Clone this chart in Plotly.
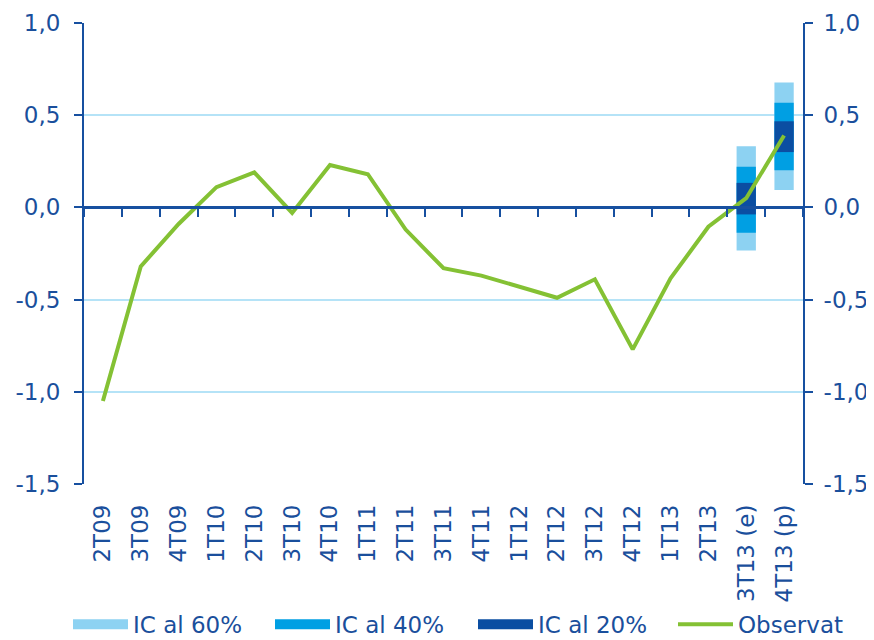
import plotly.graph_objects as go

categories = ["2T09", "3T09", "4T09", "1T10", "2T10", "3T10", "4T10", "1T11", "2T11",
              "3T11", "4T11", "1T12", "2T12", "3T12", "4T12", "1T13", "2T13",
              "3T13 (e)", "4T13 (p)"]
observat = [-1.05, -0.32, -0.09, 0.11, 0.19, -0.03, 0.23, 0.18, -0.12,
            -0.33, -0.37, -0.43, -0.49, -0.39, -0.77, -0.385, -0.105, 0.05, 0.39]

fan_categories = ["3T13 (e)", "4T13 (p)"]
ic60_low = [-0.234, 0.095]
ic60_high = [0.331, 0.678]
ic40_low = [-0.138, 0.202]
ic40_high = [0.220, 0.567]
ic20_low = [-0.038, 0.300]
ic20_high = [0.133, 0.467]

y_ticks = [1.0, 0.5, 0.0, -0.5, -1.0, -1.5]
y_tick_text = ["1,0", "0,5", "0,0", "-0,5", "-1,0", "-1,5"]

C60 = "#8DD2F2"
C40 = "#009FE3"
C20 = "#0B4EA2"
GREEN = "#84C134"
TXT = "#1A4F9C"
AXIS = "#1750A0"
GRID = "#B5E3F7"
FONT = "DejaVu Sans"
FS = 23

fig = go.Figure()

legend_ids = ["legend", "legend2", "legend3", "legend4"]

for i, (name, lo, hi, col) in enumerate([("IC al 60%", ic60_low, ic60_high, C60),
                                         ("IC al 40%", ic40_low, ic40_high, C40),
                                         ("IC al 20%", ic20_low, ic20_high, C20)]):
    fig.add_trace(go.Bar(x=fan_categories, y=[h - l for l, h in zip(lo, hi)], base=lo,
                         marker=dict(color=col, line=dict(width=0)), width=0.51,
                         name=name, showlegend=False, hoverinfo="skip"))
    fig.add_trace(go.Scatter(x=[None], y=[None], mode="lines", name=name,
                             line=dict(color=col, width=12), legend=legend_ids[i]))

fig.add_trace(go.Scatter(x=categories, y=observat, mode="lines", name="Observat",
                         line=dict(color=GREEN, width=4), legend=legend_ids[3]))

# helper invisible traces for the zero-line axis and the right axis
fig.add_trace(go.Scatter(x=categories, y=[0] * len(categories), xaxis="x2", mode="none",
                         showlegend=False, hoverinfo="skip"))
fig.add_trace(go.Scatter(x=[categories[0]], y=[0], yaxis="y2", mode="none",
                         showlegend=False, hoverinfo="skip"))

W, H = 866, 632
legend_px = [60, 262, 465, 665]
legends = {}
for lid, px in zip(legend_ids, legend_px):
    legends[lid] = dict(orientation="h", x=px / W, xanchor="left", xref="container",
                        y=0.025, yanchor="middle", yref="container",
                        font=dict(size=FS, color=TXT), itemwidth=55,
                        bgcolor="rgba(0,0,0,0)")

# page body adds an 8px offset, so the figure is 8px smaller than the window
fig.update_layout(
    width=W, height=H,
    margin=dict(l=76, r=71, t=15, b=156),
    paper_bgcolor="white", plot_bgcolor="white",
    barmode="overlay",
    font=dict(family=FONT, color=TXT, size=FS),
    xaxis=dict(type="category", categoryorder="array", categoryarray=categories,
               range=[-0.5, 18.5], showgrid=False, showline=False, zeroline=False,
               ticks="", tickangle=-90, tickfont=dict(size=FS, color=TXT),
               ticklabelstandoff=15, automargin=False),
    xaxis2=dict(type="category", categoryorder="array", categoryarray=categories,
                range=[-0.5, 18.5], overlaying="x", anchor="free", position=0.6,
                showgrid=False, showticklabels=False, showline=True, linecolor=AXIS,
                linewidth=2.5, ticks="outside", tickson="boundaries", ticklen=8,
                tickwidth=2, tickcolor=AXIS, zeroline=False, automargin=False),
    yaxis=dict(range=[-1.5, 1.0], tickvals=y_ticks, ticktext=y_tick_text,
               showgrid=True, gridcolor=GRID, gridwidth=2, zeroline=False,
               showline=True, linecolor=AXIS, linewidth=2, ticks="outside",
               ticklen=8, tickwidth=2, tickcolor=AXIS, tickfont=dict(size=FS, color=TXT),
               ticklabelstandoff=9, automargin=False),
    yaxis2=dict(range=[-1.5, 1.0], tickvals=y_ticks, ticktext=y_tick_text,
                overlaying="y", side="right", anchor="x", showgrid=False, zeroline=False,
                showline=True, linecolor=AXIS, linewidth=2, ticks="outside",
                ticklen=8, tickwidth=2, tickcolor=AXIS, tickfont=dict(size=FS, color=TXT),
                ticklabelstandoff=6, automargin=False),
    showlegend=True,
    **legends,
)

fig.write_html("out.html")
